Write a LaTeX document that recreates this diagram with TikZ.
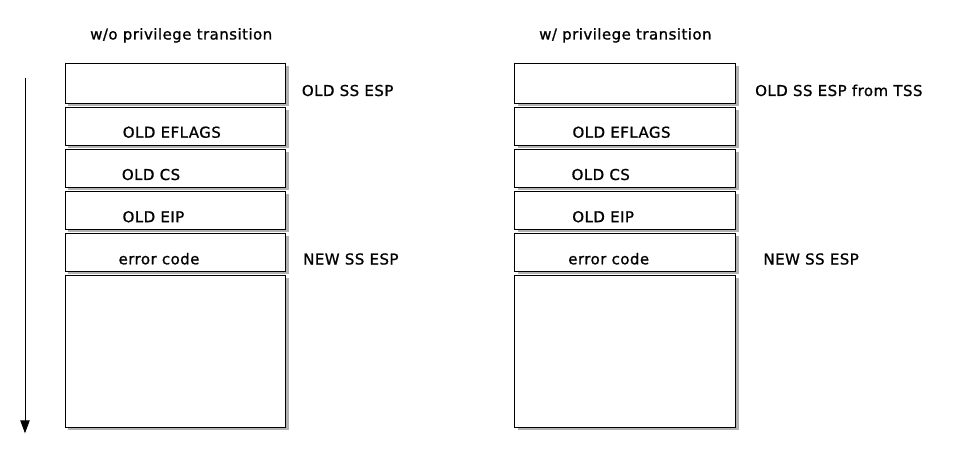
\documentclass[tikz,border=0pt]{standalone}
\usepackage{fontspec}
\newfontfamily\diafont{DejaVu Sans}[LetterSpace=3, FakeBold=1]
\usepackage{tikz}
\usetikzlibrary{positioning,arrows.meta,shadows}

\tikzset{
  cell/.style={draw, fill=white, line width=1pt, inner sep=0pt,
    minimum width=220.7pt, minimum height=38pt,
    drop shadow={shadow xshift=3pt, shadow yshift=-3pt, fill=black, opacity=0.3}},
  txt/.style={font=\diafont\fontsize{15}{18}\selectfont, anchor=base west, inner sep=0pt},
}

\begin{document}
\begin{tikzpicture}[x=1pt, y=-1pt]
\useasboundingbox (0,0) rectangle (960,462);

% titles
\node[txt] (title_wo) at (90,39.5) {w/o privilege transition};
\node[txt] (title_w) at (539,39.5) {w/ privilege transition};

% stack w/o privilege transition
\node[cell, minimum height=40pt] (l_top) at (175.6,83.3) {};
\node[cell] (l_eflags) at (175.6,126.3) {};
\node[cell] (l_cs) at (175.6,168.5) {};
\node[cell] (l_eip) at (175.6,210.3) {};
\node[cell] (l_err) at (175.6,252.2) {};
\node[cell, minimum height=152pt] (l_free) at (175.6,351.3) {};

\node[txt] (l_eflags_t) at (122.6,137.7) {OLD EFLAGS};
\node[txt] (l_cs_t) at (121.7,180) {OLD CS};
\node[txt] (l_eip_t) at (122.4,222.2) {OLD EIP};
\node[txt] (l_err_t) at (118.4,264.3) {error code};

\node[txt] (l_old_esp) at (301.7,96) {OLD SS ESP};
\node[txt] (l_new_esp) at (303,264.5) {NEW SS ESP};

% stack w/ privilege transition
\node[cell, minimum height=40pt] (r_top) at (625.3,83.3) {};
\node[cell] (r_eflags) at (625.3,126.3) {};
\node[cell] (r_cs) at (625.3,168.5) {};
\node[cell] (r_eip) at (625.3,210.3) {};
\node[cell] (r_err) at (625.3,252.2) {};
\node[cell, minimum height=152pt] (r_free) at (625.3,351.3) {};

\node[txt] (r_eflags_t) at (572.3,137.7) {OLD EFLAGS};
\node[txt] (r_cs_t) at (571.4,180) {OLD CS};
\node[txt] (r_eip_t) at (572.1,222.2) {OLD EIP};
\node[txt] (r_err_t) at (568.1,264.3) {error code};

\node[txt] (r_old_esp) at (755,96) {OLD SS ESP from TSS};
\node[txt] (r_new_esp) at (763.3,264.5) {NEW SS ESP};

% growth direction
\coordinate (grow_start) at (25,77.7);
\coordinate (grow_end) at (25,433.3);
\draw[-{Triangle[length=13pt,width=9.4pt]}, line width=1pt] (grow_start) -- (grow_end);

\end{tikzpicture}
\end{document}
